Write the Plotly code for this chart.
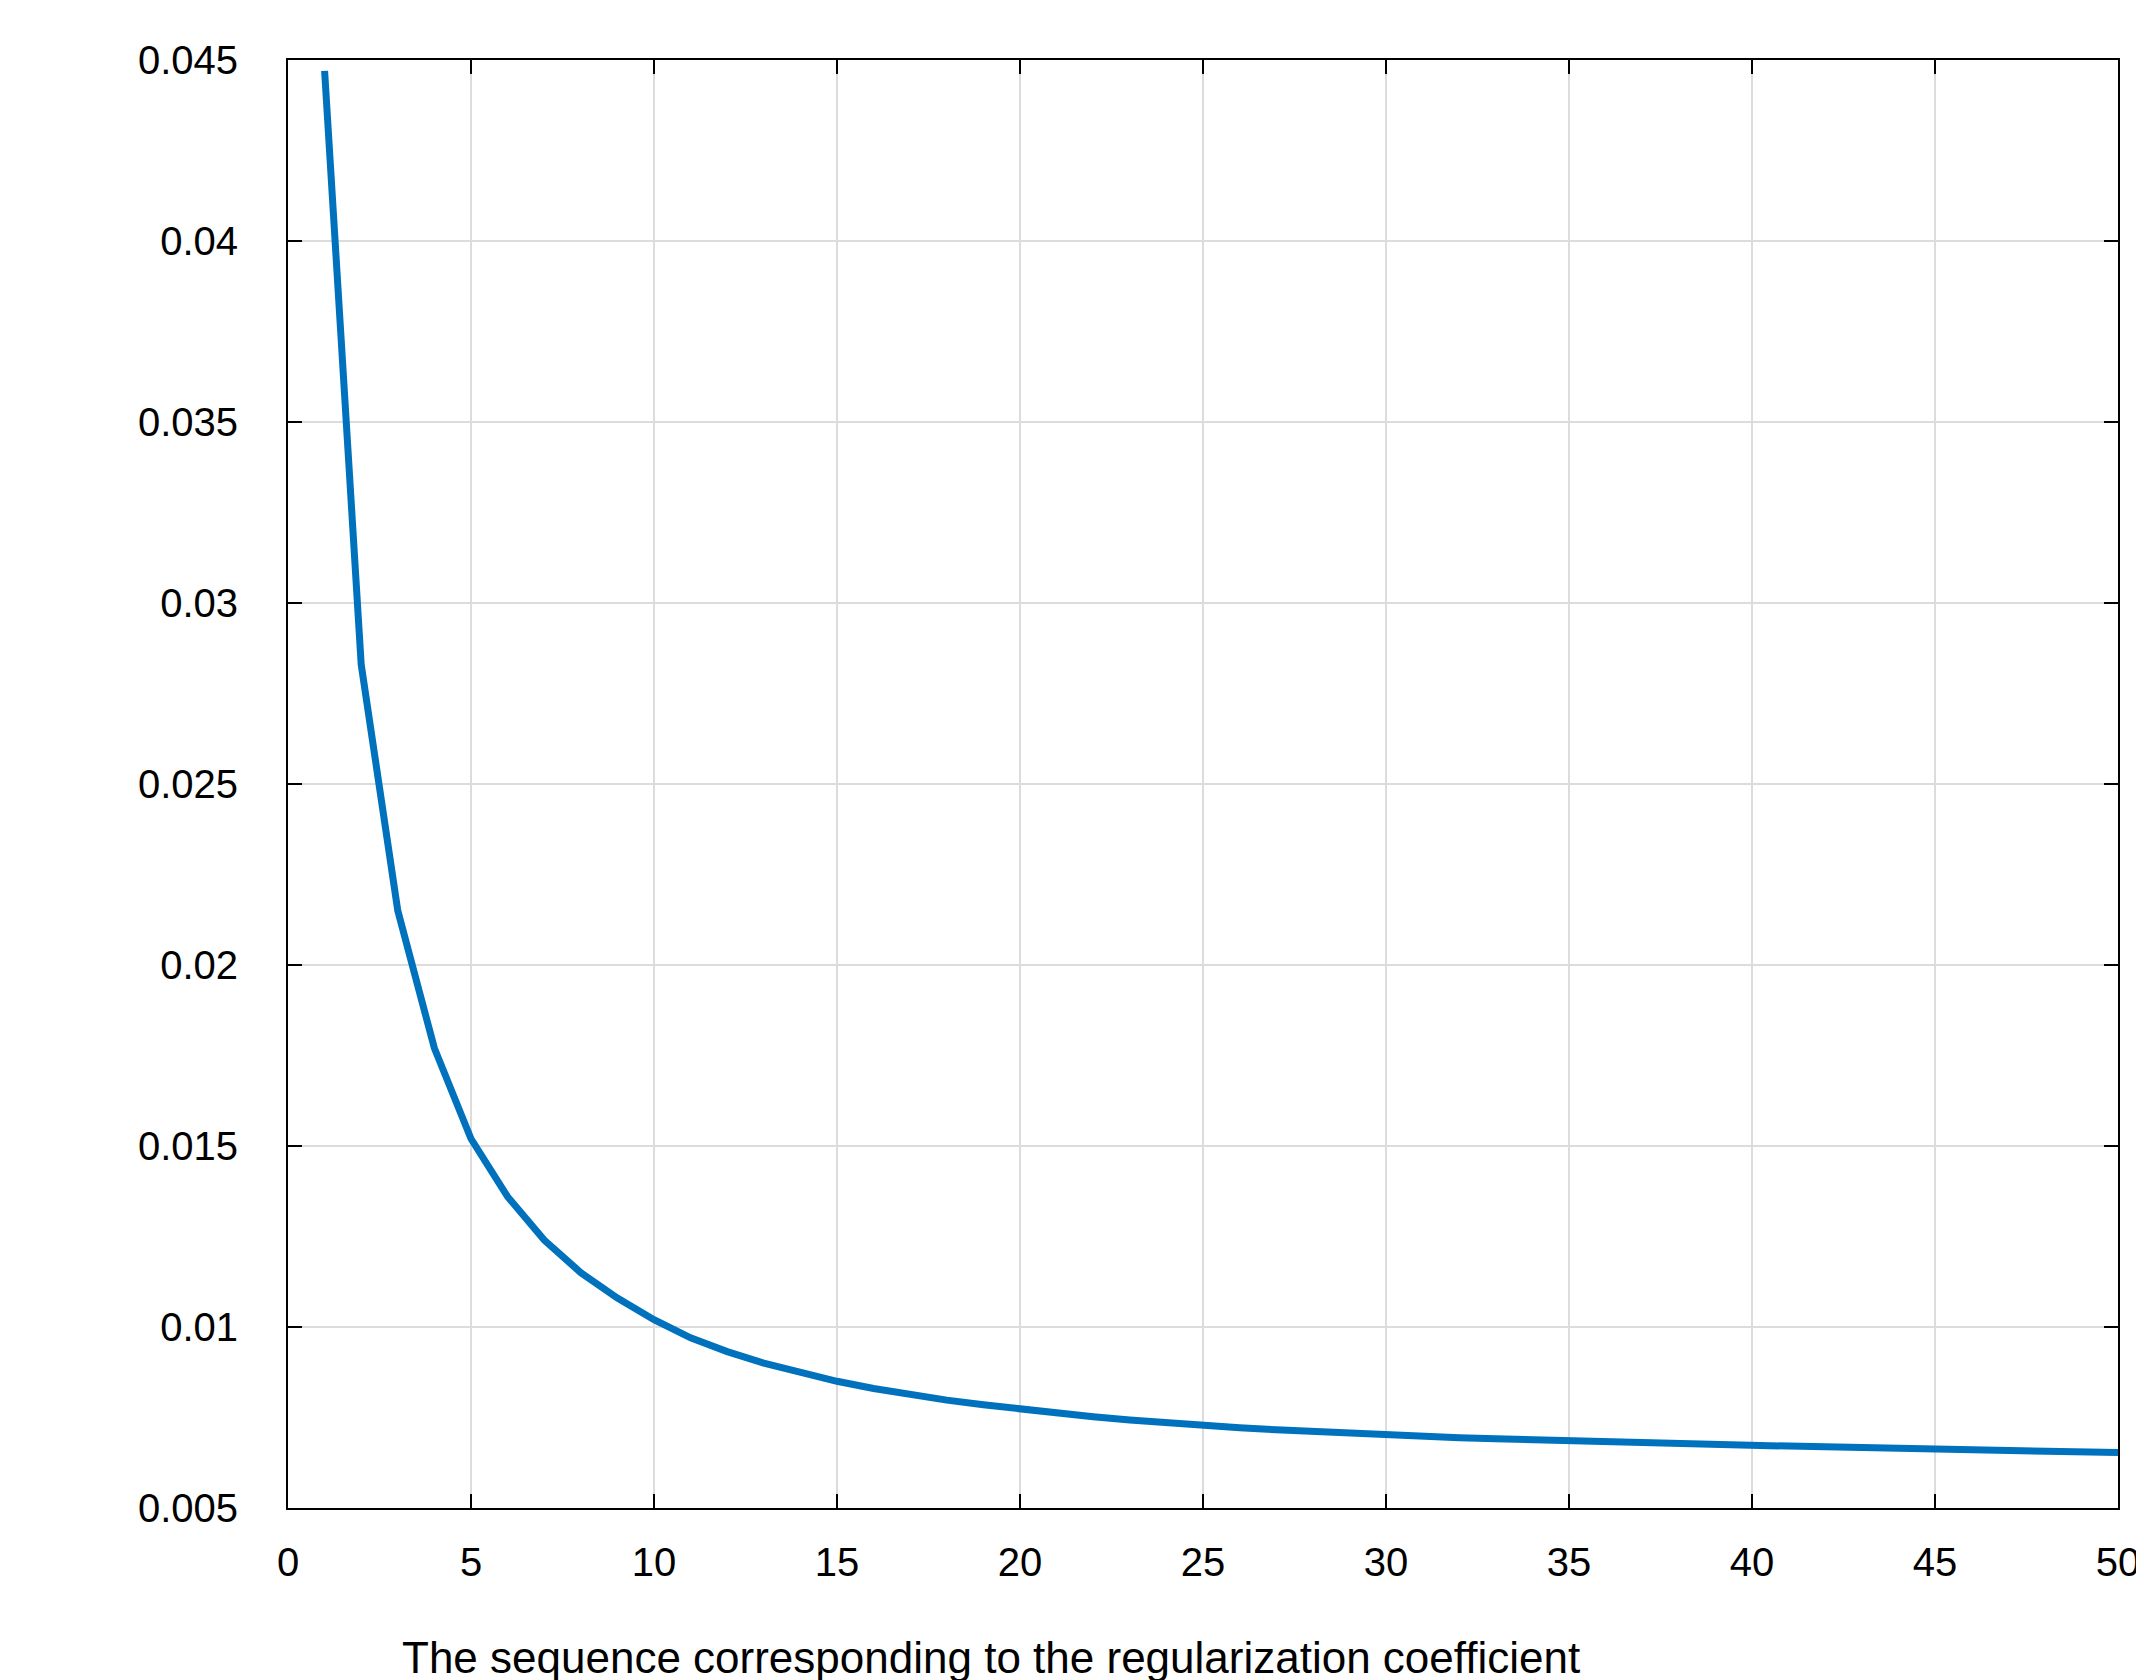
import plotly.graph_objects as go

seq = list(range(1, 51))
norm = [0.0447, 0.0283, 0.0215, 0.0177, 0.0152, 0.0136, 0.0124, 0.0115, 0.0108, 0.0102,
        0.00970, 0.00932, 0.00900, 0.00873, 0.00850, 0.00830, 0.00813, 0.00798, 0.00785, 0.00773,
        0.00762, 0.00752, 0.00743, 0.00735, 0.00728, 0.00722, 0.00716, 0.00711, 0.00706, 0.00702,
        0.00698, 0.00694, 0.00691, 0.00688, 0.00685, 0.00682, 0.00680, 0.00677, 0.00675, 0.00673,
        0.00671, 0.00669, 0.00667, 0.00665, 0.00663, 0.00661, 0.00659, 0.00657, 0.00655, 0.00653]

x_title = 'The sequence corresponding to the regularization coefficient'
y_title = 'A norm of the AR coefficient'

fig = go.Figure()
fig.add_trace(go.Scatter(x=seq, y=norm, mode='lines',
                         line=dict(color='#0072BD', width=7)))

axis_common = dict(showline=True, linecolor='black', linewidth=2, mirror='ticks',
                   ticks='inside', ticklen=14, tickwidth=2, tickcolor='black',
                   showgrid=True, gridcolor='#dcdcdc', gridwidth=2, zeroline=False,
                   tickfont=dict(size=40, color='black'))

fig.update_layout(
    width=2144, height=1680,
    paper_bgcolor='white', plot_bgcolor='white',
    font=dict(family='Liberation Sans, Arial', color='black'),
    margin=dict(l=280, r=32, t=52, b=180),
    showlegend=False,
    xaxis=dict(range=[0, 50], dtick=5, ticklabelstandoff=18, **axis_common),
    yaxis=dict(range=[0.005, 0.045], dtick=0.005, tickformat='~g',
               ticklabelstandoff=40, **axis_common),
    annotations=[
        dict(text=x_title, xref='paper', yref='paper', x=0.384, y=-0.085,
             xanchor='center', yanchor='top', showarrow=False, font=dict(size=44)),
        dict(text=y_title, xref='paper', yref='paper', x=-0.205, y=0.43,
             xanchor='left', yanchor='middle', textangle=-90, showarrow=False,
             font=dict(size=44)),
    ],
)

fig.write_html("out.html")
